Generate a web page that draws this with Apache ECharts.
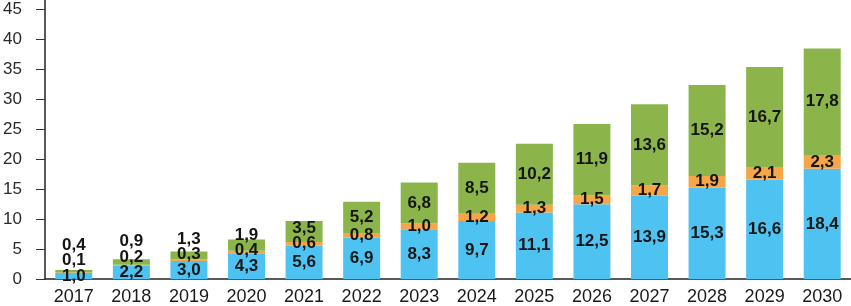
<!DOCTYPE html>
<html>
<head>
<meta charset="utf-8">
<script src="https://cdn.jsdelivr.net/npm/echarts@6/dist/echarts.min.js"></script>
<style>
  html, body { margin: 0; padding: 0; background: #fff; }
  #chart { width: 851px; height: 306px; }
</style>
</head>
<body>
<div id="chart"></div>
<script type="text/javascript">
	var years = ['2017','2018','2019','2020','2021','2022','2023','2024','2025','2026','2027','2028','2029','2030'];
	var blueVals   = [1.0, 2.2, 3.0, 4.3, 5.6, 6.9, 8.3, 9.7, 11.1, 12.5, 13.9, 15.3, 16.6, 18.4];
	var orangeVals = [0.1, 0.2, 0.3, 0.4, 0.6, 0.8, 1.0, 1.2, 1.3, 1.5, 1.7, 1.9, 2.1, 2.3];
	var greenVals  = [0.4, 0.9, 1.3, 1.9, 3.5, 5.2, 6.8, 8.5, 10.2, 11.9, 13.6, 15.2, 16.7, 17.8];
	var yTicks = [0, 5, 10, 15, 20, 25, 30, 35, 40, 45];

	var chart = echarts.init(document.getElementById('chart'));

	// label centres of the previous segment, per column, so small ones get pushed up
	var lastY = {};
	function stackLabels(p) {
		var cx = p.rect.x + p.rect.width / 2;
		var cy = p.rect.y + p.rect.height / 2;
		if (p.seriesIndex > 0 && lastY[p.dataIndex] != null) {
			cy = Math.min(cy, lastY[p.dataIndex] - 15.5);
		}
		lastY[p.dataIndex] = cy;
		return { x: cx, y: cy, align: 'center', verticalAlign: 'middle' };
	}

	function fmt(p) {
		return p.value.toFixed(1).replace('.', ',');
	}

	var labelStyle = {
		show: true,
		position: 'inside',
		formatter: fmt,
		color: '#151515',
		fontFamily: 'Liberation Sans',
		fontWeight: 'bold',
		fontSize: 17
	};

	function makeSeries(name, vals, color) {
		return {
			name: name,
			type: 'bar',
			stack: 'all',
			barWidth: 37,
			data: vals,
			itemStyle: { color: color },
			label: labelStyle,
			labelLayout: stackLabels,
			silent: true
		};
	}

	var option = {
		animation: false,
		grid: { left: 45, right: 0, top: 0, bottom: 25 },
		xAxis: {
			type: 'category',
			data: years,
			axisLine: { lineStyle: { color: '#222', width: 1.5 } },
			axisTick: { show: false },
			axisLabel: {
				color: '#1a1a1a',
				fontFamily: 'Liberation Sans',
				fontSize: 18,
				margin: 9
			}
		},
		yAxis: {
			type: 'value',
			min: 0,
			max: 46.6,
			splitLine: { show: false },
			axisLine: { show: true, lineStyle: { color: '#222', width: 1.5 } },
			axisTick: { show: true, length: 9, customValues: yTicks, lineStyle: { color: '#333' } },
			axisLabel: {
				customValues: yTicks,
				color: '#2a2a2a',
				fontFamily: 'Liberation Sans',
				fontSize: 17,
				margin: 23
			}
		},
		series: [
			makeSeries('blue', blueVals, '#4ec3f1'),
			makeSeries('orange', orangeVals, '#f6a548'),
			makeSeries('green', greenVals, '#8bb54b')
		]
	};
	chart.setOption(option);
	window.onresize = function() {
		chart.resize();
	};
</script>
</body>
</html>
